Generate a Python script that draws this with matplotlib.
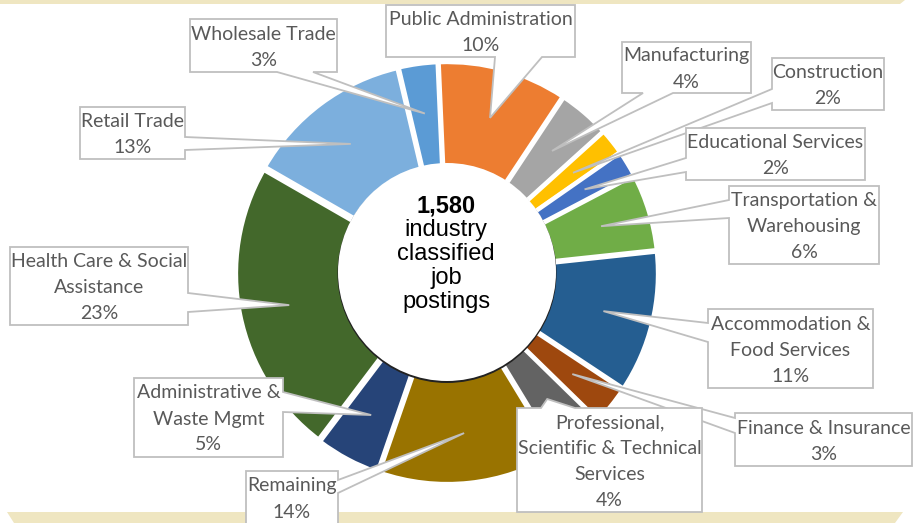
import numpy as np
import matplotlib
matplotlib.use('Agg')
import matplotlib.pyplot as plt
from matplotlib.patches import Polygon, Circle

W, H = 915, 523

# data ------------------------------------------------------------------
industries = ['Public Administration', 'Manufacturing', 'Construction',
              'Educational Services', 'Transportation &\nWarehousing',
              'Accommodation &\nFood Services', 'Finance & Insurance',
              'Professional,\nScientific & Technical\nServices', 'Remaining',
              'Administrative &\nWaste Mgmt', 'Health Care & Social\nAssistance',
              'Retail Trade', 'Wholesale Trade']
shares = [10, 4, 2, 2, 6, 11, 3, 4, 14, 5, 23, 13, 3]
colors = ['#ED7D31', '#A5A5A5', '#FFC000', '#4472C4', '#70AD47', '#255E91',
          '#9E480E', '#636363', '#997300', '#264478', '#43682B', '#7CAFDD',
          '#5B9BD5']
total_postings = '1,580'

# callout boxes (pixel coords from top-left): box, side of tail, tail base
callouts = [
    ((386, 5, 575, 57), 'bottom', (495, 542)),
    ((622, 42, 751, 93), 'bottom', (643, 673)),
    ((772, 58, 884, 110), 'left', (89, 103)),
    ((686, 128, 865, 180), 'left', (158, 172)),
    ((729, 186, 879, 264), 'left', (200, 218)),
    ((708, 309, 873, 388), 'left', (323, 342)),
    ((735, 413, 912, 466), 'left', (418, 433)),
    ((517, 408, 702, 512), 'top', (541, 575)),
    ((246, 471, 338, 524), 'right', (480, 493)),
    ((134, 378, 283, 457), 'right', (392, 412)),
    ((10, 247, 188, 325), 'right', (293, 312)),
    ((80, 107, 185, 159), 'right', (137, 150)),
    ((190, 19, 337, 72), 'bottom', (277, 313)),
]

cx, cy = 447, 273


def Y(y):
    return H - y


fig = plt.figure(figsize=(W / 100, H / 100), dpi=100)
ax = fig.add_axes([0, 0, 1, 1])

# beige bands top and bottom
band = '#EFE6C1'
ax.add_patch(Polygon([(0, Y(0)), (905, Y(0)), (900, Y(4)), (0, Y(4))],
                     closed=True, fc=band, ec='none', zorder=0))
ax.add_patch(Polygon([(7, Y(512)), (903, Y(512)), (895, Y(523)), (14, Y(523))],
                     closed=True, fc=band, ec='none', zorder=0))

wedges, _ = ax.pie(shares, colors=colors, startangle=92.5, counterclock=False,
                   radius=208, center=(cx, Y(cy)), explode=[3] * len(shares),
                   wedgeprops=dict(width=108, edgecolor='white', linewidth=3))
for w in wedges:
    w.set_zorder(1)

# hole with a thin shadow at the bottom
ax.add_patch(Circle((447, Y(272) - 1.5), 109.5, fc='#222222', ec='none', zorder=2))
ax.add_patch(Circle((447, Y(272)), 109, fc='white', ec='none', zorder=2))

ax.text(446, Y(212), total_postings, ha='center', va='baseline', fontsize=17,
        fontweight='bold', family='Liberation Sans', color='black', zorder=5)
for i, t in enumerate(['industry', 'classified', 'job', 'postings']):
    ax.text(446, Y(236 + 24 * i), t, ha='center', va='baseline', fontsize=17,
            family='Liberation Sans', color='black', zorder=5)

# callouts
for w, name, share, (box, side, base) in zip(wedges, industries, shares, callouts):
    x0, y0, x1, y1 = box
    th = np.deg2rad((w.theta1 + w.theta2) / 2)
    tip = (cx + 161 * np.cos(th), Y(cy) + 161 * np.sin(th))
    TL, TR, BR, BL = (x0, Y(y0)), (x1, Y(y0)), (x1, Y(y1)), (x0, Y(y1))
    b0, b1 = base
    if side == 'top':
        pts = [TL, (b0, Y(y0)), tip, (b1, Y(y0)), TR, BR, BL]
    elif side == 'right':
        pts = [TL, TR, (x1, Y(b0)), tip, (x1, Y(b1)), BR, BL]
    elif side == 'bottom':
        pts = [TL, TR, BR, (b1, Y(y1)), tip, (b0, Y(y1)), BL]
    else:
        pts = [TL, TR, BR, BL, (x0, Y(b1)), tip, (x0, Y(b0))]
    ax.add_patch(Polygon(pts, closed=True, fc='white', ec='#BFBFBF', lw=1.3,
                         joinstyle='miter', zorder=3))
    lines = name.split('\n') + [f'{share}%']
    n = len(lines)
    mid = (y0 + y1) / 2
    for i, t in enumerate(lines):
        yc = mid + (i - (n - 1) / 2) * 26
        ax.text((x0 + x1) / 2, Y(yc + 7), t, ha='center', va='baseline',
                fontsize=14, family='Lato', color='#595959', zorder=4)

ax.set_xlim(0, W)
ax.set_ylim(0, H)
ax.set_aspect('equal')
ax.axis('off')

fig.savefig('out.png', dpi=100)
